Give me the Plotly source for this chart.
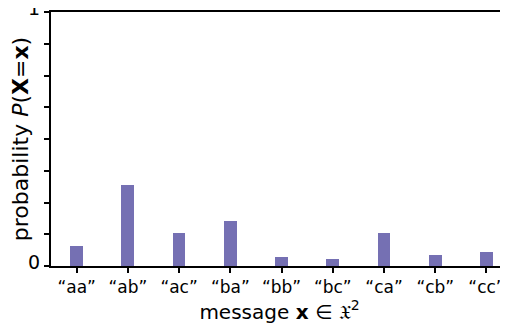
import plotly.graph_objects as go

categories = ["“aa”", "“ab”", "“ac”", "“ba”", "“bb”", "“bc”", "“ca”", "“cb”", "“cc”"]
probabilities = [0.079, 0.319, 0.130, 0.177, 0.035, 0.028, 0.130, 0.043, 0.055]
y_tickvals = [0, 0.125, 0.25, 0.375, 0.5, 0.625, 0.75, 0.875, 1]
y_ticktext = ["0", "", "", "", "", "", "", "", "1"]

FONT = "DejaVu Sans"

fig = go.Figure(go.Bar(
    x=list(range(len(categories))),
    y=probabilities,
    width=0.25,
    marker=dict(color="#7570b3", line=dict(width=0)),
))

# page body has an 8px default margin, so the figure is 8px smaller and shifted
fig.update_layout(
    width=500, height=321,
    margin=dict(l=43, r=0, t=4, b=63, autoexpand=False),
    plot_bgcolor="white", paper_bgcolor="white",
    showlegend=False,
    font=dict(family=FONT, size=18, color="black"),
    bargap=0,
)
fig.update_xaxes(
    range=[-0.5, 8.42],
    automargin=False,
    tickvals=list(range(len(categories))),
    ticktext=categories,
    showline=True, linecolor="black", linewidth=2, mirror=True,
    ticks="outside", ticklen=5, tickwidth=2, tickcolor="black",
    showgrid=False, zeroline=False,
    tickfont=dict(size=17),
    title=dict(text="message <b>x</b> ∈ 𝔛<sup>2</sup>", font=dict(size=20), standoff=5),
)
fig.update_yaxes(
    range=[0, 1],
    automargin=False,
    tickvals=y_tickvals,
    ticktext=y_ticktext,
    ticklabeloverflow="allow",
    ticklabelshift=-4,
    showline=True, linecolor="black", linewidth=2,
    ticks="outside", ticklen=5, tickwidth=2, tickcolor="black",
    showgrid=False, zeroline=False,
    tickfont=dict(size=19),
    title=dict(text="probability <i>P</i>(<b>X</b>=<b>x</b>)", font=dict(size=22), standoff=2),
)

fig.write_html("out.html")
